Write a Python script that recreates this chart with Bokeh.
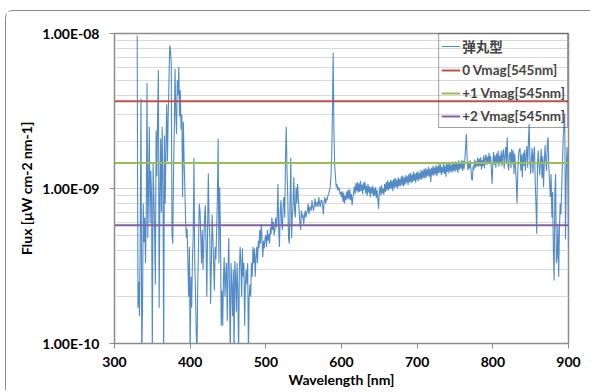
from bokeh.plotting import figure
from bokeh.models import FixedTicker, Legend, LegendItem
from bokeh.embed import file_html
from bokeh.resources import INLINE

# ---- data -------------------------------------------------------------
wl_start = 330  # first wavelength [nm], 1 nm sampling
flux_1e10 = [  # flux in units of 1e-10 uW cm-2 nm-1, 330..900 nm
    97, 1.7, 2.5, 1.5, 5, 38, 0.8, 1.6, 8, 4.5,
    6.5, 3.3, 7, 48, 4.8, 10, 25, 6, 13, 8.8,
    0.8, 14.4, 9, 5.4, 2.4, 23.7, 12, 30, 58, 1.7,
    8.8, 21, 7, 25, 11, 0.8, 22, 8, 18.5, 35,
    15, 30, 50, 84, 78, 64, 5.1, 4.4, 12, 24,
    59, 30, 22.5, 50, 40, 61, 29, 43, 24, 30,
    8.8, 27, 15, 10, 6, 4.8, 5.5, 3.3, 2, 4.2,
    0.8, 2.7, 1.7, 3.5, 4.85, 15.8, 3.3, 2.2, 1.2, 0.8,
    2.4, 4.2, 8, 7.2, 5, 3.3, 5.4, 3, 4.4, 6.5,
    7.8, 4.2, 2, 5.4, 12.5, 6, 4.85, 1.8, 3.3, 6.8,
    4.85, 3.3, 2.2, 4.2, 3.5, 5.4, 8.8, 21, 3.3, 10.2,
    5.4, 1.3, 2.2, 1.3, 2.6, 3.6, 2.0, 2.8, 3.3, 1.4,
    3.0, 4.8, 2.2, 0.8, 3.3, 2.4, 1.5, 3.0, 0.8, 3.4,
    2.7, 1.6, 3.3, 2.2, 0.8, 2.9, 4.2, 3.3, 2.0, 4.1,
    2.7, 3.3, 1.3, 2.4, 3.0, 2.4, 3.3, 0.8, 2.0, 2.4,
    2.0, 3.3, 2.7, 4.2, 3.3, 4.1, 2.7, 3.6, 4.2, 3.3,
    4.6, 4.1, 5.4, 4.4, 5.9, 4.8, 3.6, 4.6, 4.1, 4.8,
    5.0, 4.2, 5.4, 4.6, 5.1, 4.4, 5.6, 5.1, 6.5, 5.4,
    6.1, 5.0, 5.4, 6.5, 5.6, 6.5, 10.7, 5.4, 4.2, 7.2,
    8.4, 6.0, 5.4, 8.0, 8.8, 6.5, 15.8, 25, 13, 8.8,
    4.8, 4.4, 8.0, 15.8, 4.8, 6.5, 8.0, 11.8, 7.2, 6.5,
    10.2, 8.0, 10.7, 8.5, 7.2, 6.0, 5.4, 7.2, 6.5, 6.8,
    5.9, 6.6, 7.2, 6.5, 7.0, 7.2, 8.0, 6.8, 7.5, 7.6,
    7.2, 8.4, 7.6, 7.2, 7.8, 8.6, 7.6, 8.0, 8.2, 7.6,
    8.8, 8.0, 7.6, 8.4, 8.4, 7.8, 6.8, 8.2, 8.8, 8.0,
    8.6, 8.4, 9.0, 9.2, 9.7, 10.2, 11.8, 16, 30, 75,
    24, 14, 12, 10.2, 10.7, 9.7, 10.2, 10.0, 9.2, 9.5,
    8.8,
    9.6, 8.2, 9.4, 8.0, 9.0, 8.4, 9.6, 8.6, 9.8, 8.5,
    9.9, 8.4, 9.2, 7.8, 8.6, 9.4, 10.3, 9.2, 10.8, 9.6,
    11.0, 9.4, 10.8, 9.5, 11.2, 9.6, 10.6, 9.2, 10.9, 9.8,
    11.1, 9.3, 10.4, 9.0, 10.7, 9.4, 10.3, 8.8, 10.2, 9.3,
    10.4, 8.9, 10.1, 9.0, 10.2, 8.7, 9.8, 8.6, 7.4, 9.5,
    10.3, 9.0, 10.5, 9.3, 10.0, 9.1, 10.7, 9.5, 11.0, 9.7,
    11.3, 9.7, 11.0, 9.9, 11.4, 10.0, 11.2, 9.6, 11.5, 10.1,
    11.7, 10.2, 11.4, 10.0, 11.8, 10.3, 11.5, 10.4, 12.0, 10.5,
    12.1, 10.3, 11.8, 10.6, 12.2, 10.9, 12.0, 10.5, 12.4, 11.0,
    12.6, 10.8, 12.3, 11.0, 12.8, 11.2, 12.5, 10.9, 12.7, 11.3,
    12.9, 11.2, 12.6, 11.5, 13.2, 11.4, 13.0, 11.7, 13.4, 11.6,
    13.5, 11.8, 13.3, 12.0, 13.8, 11.9, 13.4, 11.0, 13.6, 12.2,
    14.0, 12.1, 13.7, 12.3, 14.2, 12.0, 13.9, 12.5, 14.4, 12.6,
    14.3, 12.2, 13.8, 12.6, 14.5, 12.4, 14.1, 11.9, 14.6, 12.8,
    14.4, 12.5, 14.8, 12.9, 14.2, 12.7, 14.9, 13.0, 14.6, 12.8,
    15.0, 13.1, 14.7, 12.6, 15.2, 13.2, 14.8, 13.4, 15.3, 13.0,
    15.1, 13.3, 15.4, 18.5, 22.5, 16.0, 13.1, 14.9, 13.4, 15.2,
    13.5, 11.5, 11.3, 14.0, 13.2, 15.4, 13.6, 15.0, 13.9, 15.8,
    13.8, 15.6, 14.0, 15.9, 13.2, 15.3, 13.9, 16.4, 13.5, 15.7,
    16.6, 14.2, 16.0, 14.5, 17.0, 14.8, 16.2, 13.5, 10.7, 14.6,
    17.2, 14.2, 16.4, 13.6, 16.8, 14.6, 17.5, 13.8, 16.3, 14.5,
    17.6, 14.0, 16.6, 17.9, 13.4, 16.2, 18.5, 14.6, 21.4, 14.2,
    13.1, 16.5, 17.2, 13.5, 18.0, 14.3, 17.6, 12.4, 16.8, 13.6,
    11.0, 8.0, 13.0, 16.4, 17.8, 18.2, 13.0, 16.5, 11.8, 17.0,
    14.0, 17.8, 13.0, 16.4, 18.8, 13.6, 20.0, 26.1, 15.4, 12.4,
    16.0, 18.2, 12.6, 16.5, 18.6, 11.0, 8.0, 5.1, 14.0, 17.6,
    14.2, 12.2, 15.2, 18.0, 11.6, 16.2, 10.2, 14.5, 19.0, 15.0,
    13.0, 19.5, 21.4, 13.6, 11.0, 8.8, 12.4, 6.5, 9.5, 4.0,
    2.55, 9.5, 12.4, 3.3, 3.6, 5.9, 2.7, 5.4, 8.0, 6.8,
    10.0, 14.4, 21.4, 25, 30.3, 4.7, 12.0, 18.5, 14.4, 4.2,
]
wavelength = [wl_start + i for i in range(len(flux_1e10))]
flux = [v * 1e-10 for v in flux_1e10]

series_name = "弹丸型"
mag_labels = ["0 Vmag[545nm]", "+1 Vmag[545nm]", "+2 Vmag[545nm]"]
mag_flux = [3.66e-9, 1.46e-9, 5.8e-10]
mag_colors = ["#c0504d", "#9bbb59", "#8064a2"]

x_ticks = [300, 400, 500, 600, 700, 800, 900]
y_ticks = [1e-10, 1e-9, 1e-8]
y_tick_labels = ["1.00E-10", "1.00E-09", "1.00E-08"]
y_minor = [m * d for d in (1e-10, 1e-9) for m in range(2, 10)]
x_min, x_max = 300, 900

FONT = "Lato, 'Noto Sans CJK SC', sans-serif"

p = figure(width=585, height=380, y_axis_type="log",
           x_range=(x_min, x_max), y_range=(1e-10, 1e-8),
           output_backend="svg", toolbar_location=None,
           min_border_left=108, min_border_right=23,
           min_border_top=22, min_border_bottom=48)

p.styles = {"margin-left": "5px", "margin-top": "10px",
            "border-top": "1px solid #8c8c8c", "border-left": "1px solid #8c8c8c",
            "border-top-left-radius": "8px"}

p.outline_line_color = "#8c8c8c"
p.outline_line_width = 1.5

# grid
p.xgrid.grid_line_color = None
p.ygrid.grid_line_color = "#d0d0d0"
p.ygrid.minor_grid_line_color = "#d9d9d9"
p.ygrid.grid_line_width = 1

# axes
p.yaxis.ticker = FixedTicker(ticks=y_ticks, minor_ticks=y_minor)
p.yaxis.major_label_overrides = {t: l for t, l in zip(y_ticks, y_tick_labels)}
p.xaxis.ticker = FixedTicker(ticks=x_ticks)
for ax in (p.xaxis[0], p.yaxis[0]):
    ax.axis_line_color = "#8c8c8c"
    ax.major_tick_line_color = "#8c8c8c"
    ax.minor_tick_line_color = None
    ax.major_tick_out = 5
    ax.major_tick_in = 0
    ax.major_label_text_font = FONT
    ax.major_label_text_font_style = "bold"
    ax.major_label_text_font_size = "14px"
    ax.major_label_text_color = "#000000"
    ax.axis_label_text_font = FONT
    ax.axis_label_text_font_style = "bold"
    ax.axis_label_text_font_size = "14px"
    ax.axis_label_text_color = "#000000"

p.xaxis.axis_label = "Wavelength [nm]"
p.xaxis.major_label_standoff = 8
p.xaxis.axis_label_standoff = 1
p.yaxis.axis_label = "Flux [μW cm-2 nm-1]"
p.yaxis.major_label_standoff = 10
p.yaxis.axis_label_standoff = 4

# series
items = []
r = p.line(wavelength, flux, line_color="#4a85c4", line_width=1.1, line_alpha=0.95)
items.append(LegendItem(label=series_name, renderers=[r]))
for lab, val, col in zip(mag_labels, mag_flux, mag_colors):
    rr = p.line([x_min, x_max], [val, val], line_color=col, line_width=2)
    items.append(LegendItem(label=lab, renderers=[rr]))

legend = Legend(items=items, location="top_right")
legend.background_fill_alpha = 0
legend.border_line_color = "#404040"
legend.border_line_width = 1
legend.label_text_font = FONT
legend.label_text_font_style = "bold"
legend.label_text_font_size = "13.5px"
legend.glyph_width = 19
legend.glyph_height = 18
legend.label_height = 18
legend.spacing = 5
legend.padding = 2
legend.margin = 0
legend.label_standoff = 2
p.add_layout(legend)

open("out.html", "w").write(file_html(p, INLINE))
